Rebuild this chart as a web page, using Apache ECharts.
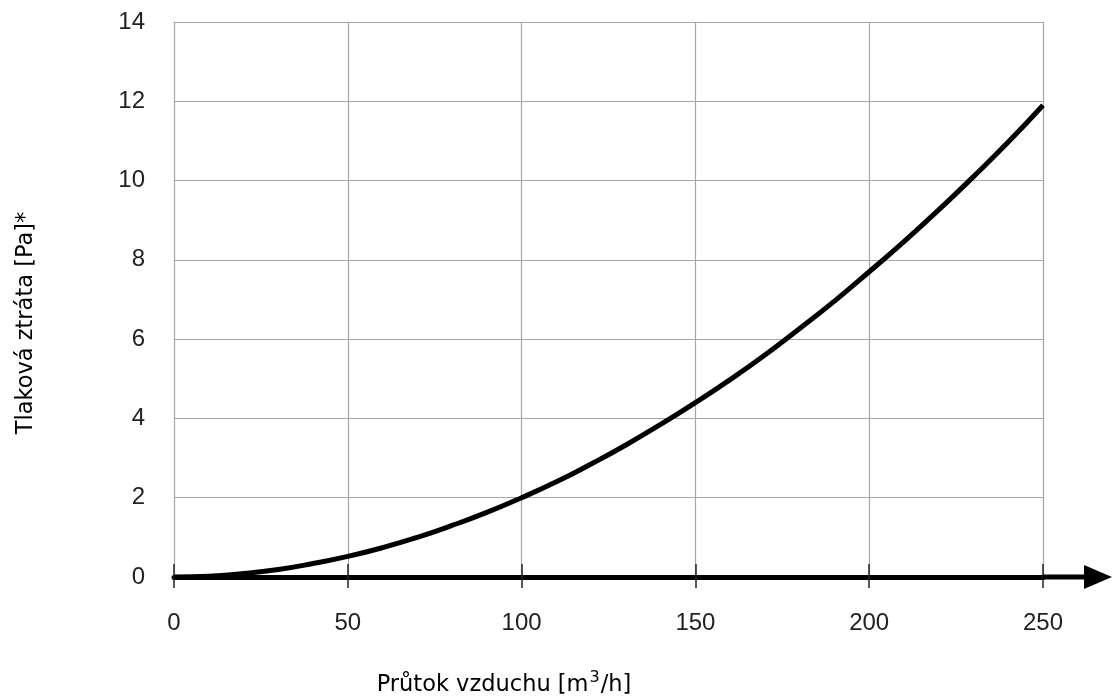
<!DOCTYPE html>
<html><head><meta charset="utf-8">
<script src="https://cdn.jsdelivr.net/npm/echarts@6/dist/echarts.min.js"></script>
<style>html,body{margin:0;padding:0;background:#fff}#c{width:1112px;height:698px}</style>
</head><body><div id="c"></div>
<script>
var flowValues = [0,10,20,30,40,50,60,70,80,90,100,110,120,130,140,150,160,170,180,190,200,210,220,230,240,250];
var lossValues = [0,0.02,0.09,0.19,0.34,0.52,0.74,1.0,1.3,1.63,2.0,2.4,2.85,3.33,3.85,4.4,4.98,5.6,6.27,6.96,7.7,8.46,9.26,10.1,10.97,11.9];
var xTicks = [0,50,100,150,200,250];
var yTicks = [0,2,4,6,8,10,12,14];
var xTitle = 'Průtok vzduchu [m';
var yTitle = 'Tlaková ztráta [Pa]*';

var chart = echarts.init(document.getElementById('c'));
var pts = flowValues.map(function(v,i){return [v, lossValues[i]];});
var tickFont = {fontFamily:'Liberation Sans, Arial', fontSize:24, color:'#222'};
var option = {
  animation:false,
  grid:{left:174,right:69,top:22,bottom:121},
  xAxis:[{
    type:'value', min:xTicks[0], max:xTicks[xTicks.length-1], interval:50,
    axisLine:{show:true, onZero:false, lineStyle:{color:'#000', width:5}},
    axisTick:{show:true, inside:false, length:11, lineStyle:{color:'#222', width:1.5}},
    axisLabel:Object.assign({margin:34}, tickFont),
    splitLine:{show:true, lineStyle:{color:'#a6a6a6', width:1.2}}
  },{
    type:'value', min:xTicks[0], max:xTicks[xTicks.length-1], interval:50, position:'bottom',
    axisLine:{show:false},
    axisTick:{show:true, inside:true, length:13, lineStyle:{color:'#222', width:1.5}},
    axisLabel:{show:false}, splitLine:{show:false}
  }],
  yAxis:{
    type:'value', min:yTicks[0], max:yTicks[yTicks.length-1], interval:2,
    axisLine:{show:false}, axisTick:{show:false},
    axisLabel:Object.assign({margin:29}, tickFont),
    splitLine:{show:true, lineStyle:{color:'#a6a6a6', width:1.2}}
  },
  series:[{
    type:'line', data:pts, smooth:true, showSymbol:false,
    lineStyle:{color:'#000', width:5}, z:5
  }]
};
chart.setOption(option);

var p0 = chart.convertToPixel({xAxisIndex:0,yAxisIndex:0},[xTicks[xTicks.length-1],0]);
chart.setOption({graphic:[
  {type:'line', shape:{x1:p0[0], y1:p0[1], x2:1090, y2:p0[1]}, style:{stroke:'#000', lineWidth:5}, z:10},
  {type:'polygon', shape:{points:[[1084,p0[1]-12],[1112,p0[1]],[1084,p0[1]+12]]}, style:{fill:'#000'}, z:10},
  {type:'text', x:504, y:685, style:{
    text:'{a|'+xTitle+'}{s|3}{a|/h]}', align:'center', verticalAlign:'middle',
    rich:{a:{fontFamily:'DejaVu Sans', fontSize:22.5, fill:'#000'},
          s:{fontFamily:'DejaVu Sans', fontSize:16, fill:'#000', verticalAlign:'top', padding:[0,1,14,1]}}
  }},
  {type:'text', x:26, y:323, rotation:Math.PI/2, style:{
    text:yTitle, align:'center', verticalAlign:'middle',
    fontFamily:'DejaVu Sans', fontSize:22.5, fill:'#000'
  }}
]});
</script></body></html>
